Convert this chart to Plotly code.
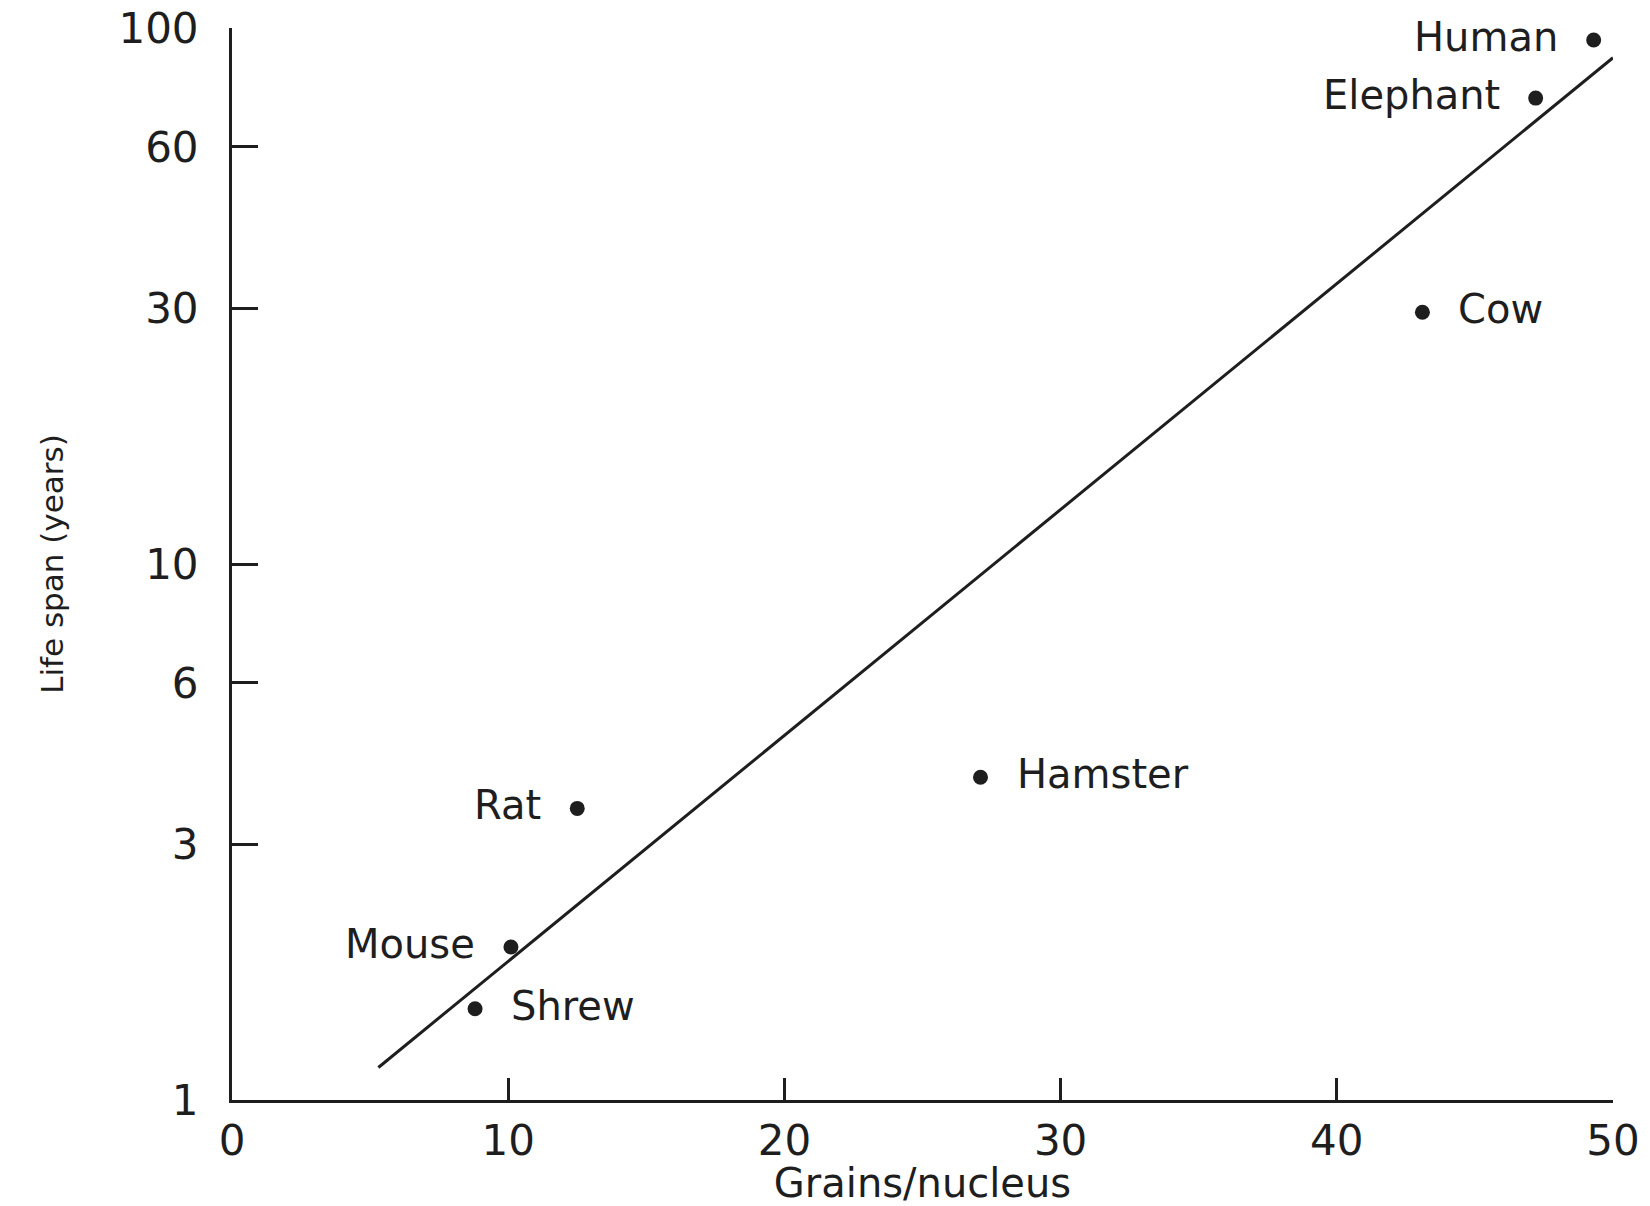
import math
import plotly.graph_objects as go

# Grain counts per nucleus vs. maximum life span for several mammals
species = ["Human", "Elephant", "Cow", "Hamster", "Rat", "Mouse", "Shrew"]
grains = [49.3, 47.2, 43.1, 27.1, 12.5, 10.1, 8.8]
life_span = [95, 74, 29.5, 4.0, 3.5, 1.93, 1.48]
label_side = ["left", "left", "right", "right", "left", "left", "right"]

# Regression line (log life span vs grains)
fit_x = [5.3, 50.0]
fit_y = [1.15, 88.0]

x_ticks = [0, 10, 20, 30, 40, 50]
y_ticks = [1, 3, 6, 10, 30, 60, 100]

ink = "#1e1e1e"
font_family = "DejaVu Sans"

fig = go.Figure()

fig.add_trace(go.Scatter(
    x=fit_x, y=fit_y, mode="lines",
    line=dict(color=ink, width=3),
    hoverinfo="skip", showlegend=False,
))

fig.add_trace(go.Scatter(
    x=grains, y=life_span, mode="markers",
    marker=dict(color=ink, size=15),
    text=species, showlegend=False, cliponaxis=False,
))

# Species names beside their points (annotation y is in log10 units on a log axis)
for name, gx, ly, side in zip(species, grains, life_span, label_side):
    fig.add_annotation(
        x=gx, y=math.log10(ly), xref="x", yref="y", text=name, showarrow=False,
        xanchor="right" if side == "left" else "left",
        xshift=-34 if side == "left" else 34, yshift=3,
        font=dict(family=font_family, size=40, color=ink),
    )

fig.update_xaxes(
    range=[0, 50],
    tickvals=x_ticks, ticktext=[str(v) for v in x_ticks],
    ticks="inside", ticklen=22, tickwidth=3, tickcolor=ink,
    showline=True, linecolor=ink, linewidth=3,
    showgrid=False, zeroline=False,
    tickfont=dict(family=font_family, size=42, color=ink),
    ticklabelstandoff=2,
    title=dict(text="Grains/nucleus", standoff=4,
               font=dict(family=font_family, size=40, color=ink)),
)

fig.update_yaxes(
    type="log", range=[0, 2],
    tickvals=y_ticks, ticktext=[str(v) for v in y_ticks],
    ticks="inside", ticklen=26, tickwidth=3, tickcolor=ink,
    showline=True, linecolor=ink, linewidth=3,
    showgrid=False, zeroline=False,
    tickfont=dict(family=font_family, size=42, color=ink),
    ticklabelstandoff=22,
    title=dict(text="Life span (years)", standoff=46,
               font=dict(family=font_family, size=31, color=ink)),
)

fig.update_layout(
    width=1650, height=1206,
    margin=dict(l=232, r=37, t=28, b=106, autoexpand=False),
    plot_bgcolor="white", paper_bgcolor="white",
    showlegend=False,
)

fig.write_html("out.html")
